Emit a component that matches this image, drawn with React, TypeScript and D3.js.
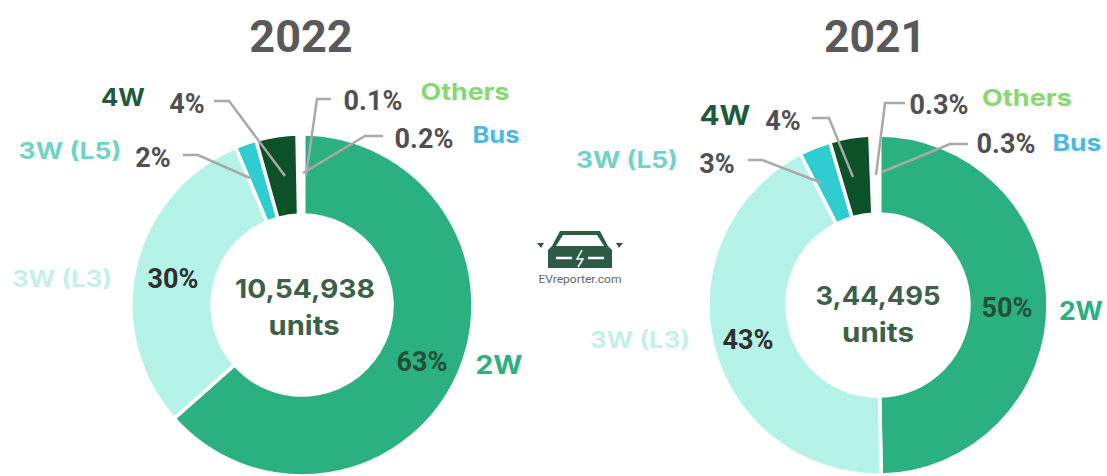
import React from "react";
import * as d3 from "d3";

const categories = ["2W", "3W (L3)", "3W (L5)", "4W", "Bus", "Others"];
const values2022 = [63, 30, 2, 4, 0.2, 0.1];
const values2021 = [50, 43, 3, 4, 0.3, 0.3];
const colors = ["#2bb07f", "#b5f3e9", "#2fcdd0", "#0d5128", "#3fb0e0", "#7fd66f"];

type T = { x: number; y: number; s: string; c: string; fs: number; f: string; w?: number };

const PCT = "Roboto, sans-serif";
const LAB = "Inter, sans-serif";
const grey = "#505050";

const texts2022: T[] = [
  { x: 301, y: 52, s: "2022", c: "#595959", fs: 45, f: PCT },
  { x: 123, y: 106, s: "4W", c: "#1d5c3a", fs: 24, f: LAB, w: 44 },
  { x: 187, y: 113, s: "4%", c: grey, fs: 27, f: PCT },
  { x: 373, y: 110, s: "0.1%", c: grey, fs: 27, f: PCT },
  { x: 465, y: 100, s: "Others", c: "#86d96f", fs: 23, f: LAB, w: 89 },
  { x: 424, y: 148, s: "0.2%", c: grey, fs: 27, f: PCT },
  { x: 496, y: 143, s: "Bus", c: "#4cb8e6", fs: 23, f: LAB, w: 47 },
  { x: 70, y: 159, s: "3W (L5)", c: "#6fd3c5", fs: 23, f: LAB, w: 103 },
  { x: 153, y: 167, s: "2%", c: grey, fs: 27, f: PCT },
  { x: 62, y: 287, s: "3W (L3)", c: "#c5f0e8", fs: 23, f: LAB, w: 100 },
  { x: 173, y: 288, s: "30%", c: "#2f2f2f", fs: 27, f: PCT },
  { x: 422, y: 371, s: "63%", c: "#234f39", fs: 27, f: PCT },
  { x: 499, y: 374, s: "2W", c: "#2bb07f", fs: 25, f: LAB, w: 47 },
  { x: 305, y: 298, s: "10,54,938", c: "#3c6049", fs: 26, f: LAB, w: 140 },
  { x: 304, y: 335, s: "units", c: "#3c6049", fs: 26, f: LAB, w: 71 },
];
const texts2021: T[] = [
  { x: 875, y: 52, s: "2021", c: "#595959", fs: 44.5, f: PCT },
  { x: 725, y: 125, s: "4W", c: "#1d5c3a", fs: 27, f: LAB, w: 51 },
  { x: 783, y: 130, s: "4%", c: grey, fs: 27, f: PCT },
  { x: 939, y: 114, s: "0.3%", c: grey, fs: 27, f: PCT },
  { x: 1027, y: 106, s: "Others", c: "#86d96f", fs: 23, f: LAB, w: 90 },
  { x: 1006, y: 153, s: "0.3%", c: grey, fs: 27, f: PCT },
  { x: 1077, y: 151, s: "Bus", c: "#4cb8e6", fs: 23, f: LAB, w: 49 },
  { x: 627, y: 168, s: "3W (L5)", c: "#6fd3c5", fs: 23, f: LAB, w: 102 },
  { x: 717, y: 173, s: "3%", c: grey, fs: 27, f: PCT },
  { x: 640, y: 348, s: "3W (L3)", c: "#c5f0e8", fs: 23, f: LAB, w: 100 },
  { x: 748, y: 349, s: "43%", c: "#2f2f2f", fs: 27, f: PCT },
  { x: 1007, y: 317, s: "50%", c: "#234f39", fs: 27, f: PCT },
  { x: 1081, y: 320, s: "2W", c: "#2bb07f", fs: 25, f: LAB, w: 44 },
  { x: 878, y: 305, s: "3,44,495", c: "#3c6049", fs: 26, f: LAB, w: 125 },
  { x: 878, y: 342, s: "units", c: "#3c6049", fs: 26, f: LAB, w: 72 },
];

const leaders2022 = [
  "M214,101 H229 L285,176",
  "M331,99 H317 L306,176",
  "M183,155 H198 L250,178",
  "M383,136 H365 L303,173",
];
const leaders2021 = [
  "M812,118 H829 L853,177",
  "M905,103 H885 L876,175",
  "M748,160 H762 L822,183",
  "M968,144 H950 L882,172",
];

function Donut({ cx, cy, r, r0, values }: { cx: number; cy: number; r: number; r0: number; values: number[] }) {
  const pie = d3.pie<number>().sort(null).value((d) => d);
  const arc = d3.arc<d3.PieArcDatum<number>>().innerRadius(r0).outerRadius(r);
  return (
    <g transform={`translate(${cx},${cy})`}>
      {pie(values).map((a, i) => (
        <path key={categories[i]} d={arc(a) ?? ""} fill={colors[i]} stroke="#fff" strokeWidth={values[i] < 1 ? 7 : 3.5} />
      ))}
    </g>
  );
}

function Labels({ items }: { items: T[] }) {
  return (
    <>
      {items.map((t, i) => (
        <text
          key={i}
          x={t.x}
          y={t.y}
          fill={t.c}
          fontSize={t.fs}
          fontFamily={t.f}
          fontWeight={700}
          textAnchor="middle"
          textLength={t.w}
          lengthAdjust={t.w ? "spacingAndGlyphs" : undefined}
        >
          {t.s}
        </text>
      ))}
    </>
  );
}

export default function App() {
  return (
    <svg width={1107} height={476} style={{ position: "fixed", left: 0, top: 0, background: "#fff" }}>
      <Donut cx={302} cy={305} r={171} r0={90} values={values2022} />
      <Donut cx={878} cy={305} r={170} r0={91} values={values2021} />
      {[...leaders2022, ...leaders2021].map((d, i) => (
        <path key={i} d={d} fill="none" stroke="#a9a9a9" strokeWidth={2.5} />
      ))}
      <Labels items={texts2022} />
      <Labels items={texts2021} />
      <g>
        <path d="M552,246 L560,231 H600 L608,246 L612,250 V268 H548 V250 Z" fill="#2e5b45" />
        <path d="M556,246 L563,235 H597 L604,246 Z" fill="#fff" />
        <path d="M537,243 L544,243 L541,248 Z M616,243 L623,243 L619,248 Z" fill="#2e5b45" />
        <path d="M556,258 H572 M588,258 H604" stroke="#fff" strokeWidth={2.5} />
        <path d="M582,250 L577,259 H583 L578,267" fill="none" stroke="#fff" strokeWidth={1.5} />
        <text x={580} y={283} fontSize={10} fontFamily="Roboto, sans-serif" fill="#666" textAnchor="middle" textLength={83} lengthAdjust="spacingAndGlyphs">EVreporter.com</text>
      </g>
    </svg>
  );
}
